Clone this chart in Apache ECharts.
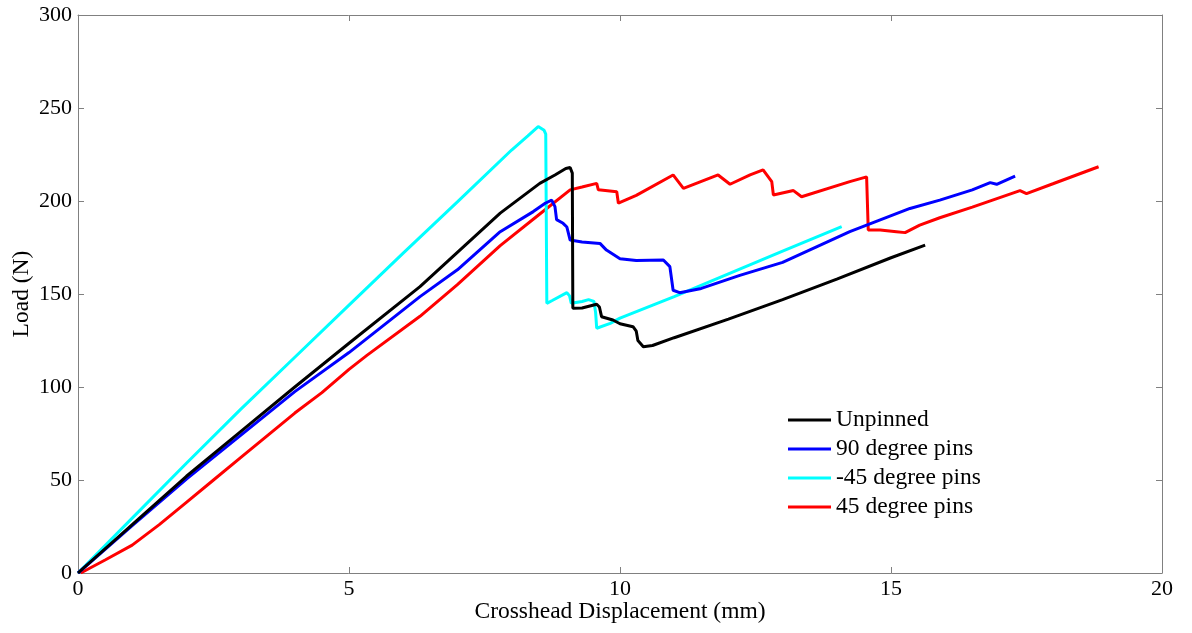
<!DOCTYPE html>
<html>
<head>
<meta charset="utf-8">
<title>Load vs Crosshead Displacement</title>
<script src="https://cdn.jsdelivr.net/npm/echarts@6/dist/echarts.min.js"></script>
<style>
  html, body { margin: 0; padding: 0; background: #fff; }
  #chart { width: 1192px; height: 633px; }
</style>
</head>
<body>
<div id="chart"></div>
<script>
// values: [displacement mm, load N]
const seriesNames = ['Unpinned', '90 degree pins', '-45 degree pins', '45 degree pins']
const seriesColors = ['#000000', '#0000ff', '#00ffff', '#ff0000']

const unpinned = [
  [0, 0], [1, 26], [2, 52], [3, 76], [4, 100], [5, 123.5], [6.31, 154], [7.79, 193.5],
  [8.52, 209.5], [8.8, 214], [9.0, 217.5], [9.08, 218], [9.12, 215], [9.13, 142.4],
  [9.3, 142.5], [9.57, 144.5], [9.62, 143], [9.66, 137.8], [9.87, 136], [10.0, 134],
  [10.24, 132.4], [10.3, 130], [10.33, 125], [10.43, 121.7], [10.6, 122.3], [11, 126.5],
  [12, 136.5], [13, 147], [14, 158], [15, 169.5], [15.63, 176.3]
]

const pins90 = [
  [0, 0], [1, 25.5], [2, 50.5], [3, 74], [4, 97.5], [5, 118.5], [6.31, 148.6], [7, 163],
  [7.79, 183.5], [8.4, 194.3], [8.62, 198.8], [8.74, 200.5], [8.8, 197], [8.83, 190],
  [8.95, 188], [9.02, 186], [9.08, 179], [9.3, 178], [9.63, 177.2], [9.75, 173.6],
  [10, 169], [10.3, 168], [10.8, 168.3], [10.92, 164.7], [10.98, 152], [11.1, 150.7],
  [11.5, 153], [12.21, 160], [13, 167], [14.24, 183.5], [15.35, 196], [15.9, 200.5],
  [16.5, 206], [16.83, 209.9], [16.95, 209], [17.29, 213.4]
]

const pinsMinus45 = [
  [0, 0], [1, 29.5], [2, 59], [3, 88], [4, 116], [5, 144], [6, 172], [7, 199.5],
  [8, 227.4], [8.3, 235], [8.49, 240], [8.6, 238], [8.63, 236], [8.65, 145],
  [8.75, 146.5], [9.02, 150.7], [9.07, 149], [9.1, 145], [9.3, 146], [9.42, 147],
  [9.52, 146], [9.55, 140], [9.57, 131.6], [9.82, 134.2], [10, 137], [11, 148.6],
  [12, 160.8], [13, 173], [14.09, 186.2]
]

const pins45 = [
  [0.05, 0], [0.5, 7], [1, 15], [1.5, 26], [2, 38], [2.5, 50], [3, 62], [4, 86],
  [4.5, 97], [5, 109.5], [5.33, 117], [6.31, 138], [7, 155], [7.79, 176], [8.52, 193],
  [9.08, 206], [9.3, 207.5], [9.57, 209.5], [9.6, 206], [9.94, 205], [9.97, 198.8],
  [10.3, 203], [10.98, 214], [11.17, 206.8], [11.81, 214], [12.03, 209], [12.4, 214],
  [12.64, 216.7], [12.8, 210.4], [12.83, 203.2], [13.2, 205.6], [13.35, 202.3],
  [14.24, 210.4], [14.55, 213], [14.58, 184.4], [14.8, 184.4], [15.1, 183.5],
  [15.26, 183], [15.53, 187], [15.9, 191], [16.5, 196.7], [17.38, 205.6], [17.5, 204],
  [18, 209.4], [18.83, 218.4]
]

const seriesData = [unpinned, pins90, pinsMinus45, pins45]

const font = 'Liberation Serif, Times New Roman, serif'
const axisGray = '#808080'

const chart = echarts.init(document.getElementById('chart'))

const boxAxis = {
  axisLine: { show: true, onZero: false, lineStyle: { color: axisGray, width: 1 } },
  axisTick: { show: true, inside: true, length: 6, lineStyle: { color: axisGray } },
  splitLine: { show: false }
}

const option = {
  backgroundColor: '#fff',
  animation: false,
  grid: { left: 78, right: 30, top: 15, bottom: 60 },
  legend: {
    orient: 'vertical',
    left: 788,
    top: 408,
    padding: 0,
    icon: 'rect',
    itemWidth: 43,
    itemHeight: 3,
    itemGap: 5,
    textStyle: { fontFamily: font, fontSize: 23.5, color: '#000', lineHeight: 23.7 },
    data: seriesNames
  },
  xAxis: [
    Object.assign({
      type: 'value',
      min: 0,
      max: 20,
      interval: 5,
      position: 'bottom',
      name: 'Crosshead Displacement (mm)',
      nameLocation: 'middle',
      nameGap: 27,
      nameMoveOverlap: false,
      nameTextStyle: { fontFamily: font, fontSize: 23.5, color: '#000' },
      axisLabel: { fontFamily: font, fontSize: 22, color: '#000', margin: 5 }
    }, boxAxis),
    Object.assign({
      type: 'value',
      min: 0,
      max: 20,
      interval: 5,
      position: 'top',
      axisLabel: { show: false }
    }, boxAxis)
  ],
  yAxis: [
    Object.assign({
      type: 'value',
      min: 0,
      max: 300,
      interval: 50,
      position: 'left',
      name: 'Load (N)',
      nameLocation: 'middle',
      nameGap: 44,
      nameMoveOverlap: false,
      nameTextStyle: { fontFamily: font, fontSize: 23.5, color: '#000' },
      axisLabel: { fontFamily: font, fontSize: 22, color: '#000', margin: 6 }
    }, boxAxis),
    Object.assign({
      type: 'value',
      min: 0,
      max: 300,
      interval: 50,
      position: 'right',
      axisLabel: { show: false }
    }, boxAxis)
  ],
  series: seriesNames.map((name, i) => ({
    name: name,
    type: 'line',
    data: seriesData[i],
    showSymbol: false,
    symbol: 'none',
    color: seriesColors[i],
    lineStyle: { color: seriesColors[i], width: 3 },
    z: i === 0 ? 5 : 4 - i
  }))
}

chart.setOption(option)
</script>
</body>
</html>
